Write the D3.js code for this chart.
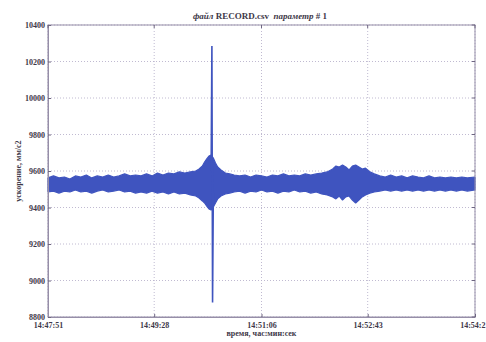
<!DOCTYPE html>
<html><head><meta charset="utf-8">
<script src="https://cdn.jsdelivr.net/npm/d3@7"></script>
<style>html,body{margin:0;padding:0;background:#fff;overflow:hidden}</style>
</head><body>
<svg id="c" width="486" height="342"></svg>
<script>
// time offsets in seconds from 14:47:51
const times = [0,5,10,15,20,25,30,35,40,45,50,55,60,65,70,75,80,85,90,95,100,105,110,115,120,125,130,135,
  138,141,143,145,147,149,151,153,155,158,162,166,170,
  175,180,185,190,195,200,205,210,215,220,225,230,235,240,245,250,255,
  260,263,266,269,272,275,278,281,284,287,290,294,298,
  303,308,313,318,323,328,333,338,343,348,353,358,363,368,373,378,383,390];
const upper = [9562,9573,9562,9567,9556,9573,9567,9578,9562,9573,9567,9578,9567,9573,9584,9573,9578,9573,9584,9573,9589,9578,9589,9584,9595,9589,9595,9600,
  9611,9627,9649,9666,9682,9688,9671,9644,9622,9606,9589,9584,9578,
  9573,9578,9567,9578,9573,9567,9578,9573,9584,9573,9578,9573,9584,9578,9584,9589,9595,
  9611,9627,9622,9633,9622,9606,9627,9633,9622,9611,9616,9595,9584,
  9573,9567,9578,9567,9573,9562,9573,9567,9562,9573,9562,9567,9562,9567,9562,9567,9562,
  9567];
const lower = [9485,9490,9479,9490,9485,9496,9485,9490,9479,9490,9496,9485,9490,9496,9485,9490,9479,9485,9479,9490,9479,9485,9474,9485,9474,9479,9469,9463,
  9452,9436,9425,9408,9392,9386,9403,9425,9447,9463,9474,9479,9485,
  9490,9479,9490,9485,9496,9485,9490,9479,9490,9485,9496,9485,9490,9479,9485,9474,9469,
  9458,9447,9463,9441,9458,9463,9441,9425,9441,9458,9469,9479,9485,
  9490,9496,9490,9496,9490,9496,9490,9496,9490,9496,9490,9496,9490,9496,9490,9496,9490,
  9496];
const spikeTimes = [149, 149.7, 150.3, 151];
const spikeValues = [9600, 10285, 8880, 9480];
const yTicks = [8800,9000,9200,9400,9600,9800,10000,10200,10400];
const xTickSecs = [0,97,195,292,390];
const xTickLabels = ["14:47:51","14:49:28","14:51:06","14:52:43","14:54:2"];
const titleParts = [["файл ",true],["RECORD.csv",false],["  параметр ",true],["# 1",false]];
const xTitle = "время, час:мин:сек";
const yTitle = "ускорение, мм/с2";

const L=48,R=475,T=25,B=317;
const svg=d3.select("#c");
const x=d3.scaleLinear().domain([0,390]).range([L,R]);
const y=d3.scaleLinear().domain([8800,10400]).range([B,T]);
const font="'Liberation Serif', serif";
const txt="#3e3848";
const blue="#3f54bf";

// grid
const g=svg.append("g");
g.selectAll(".gy").data(yTicks).enter().append("line")
  .attr("x1",L).attr("x2",R).attr("y1",d=>y(d)).attr("y2",d=>y(d))
  .attr("stroke","#b9b2cc").attr("stroke-width",0.9).attr("stroke-dasharray","1,2");
g.selectAll(".gx").data(xTickSecs).enter().append("line")
  .attr("x1",d=>x(d)).attr("x2",d=>x(d)).attr("y1",T).attr("y2",B)
  .attr("stroke","#b9b2cc").attr("stroke-width",0.9).attr("stroke-dasharray","1,2");

// band
const band=times.map((t,i)=>({t,u:upper[i],l:lower[i]}));
svg.append("path").datum(band)
  .attr("d",d3.area().x(d=>x(d.t)).y0(d=>y(d.l)).y1(d=>y(d.u)).curve(d3.curveLinear))
  .attr("fill",blue).attr("stroke",blue).attr("stroke-width",1.2).attr("stroke-linejoin","bevel");
svg.append("path").datum(spikeTimes.map((t,i)=>({t,v:spikeValues[i]})))
  .attr("d",d3.line().x(d=>x(d.t)).y(d=>y(d.v)))
  .attr("fill","none").attr("stroke",blue).attr("stroke-width",1.6);

// frame
svg.append("rect").attr("x",L).attr("y",T).attr("width",R-L).attr("height",B-T)
  .attr("fill","none").attr("stroke","#968ea8").attr("stroke-width",1);

// axes
const ax=svg.append("g").attr("transform",`translate(0,${B})`)
  .call(d3.axisBottom(x).tickValues(xTickSecs).tickFormat((d,i)=>xTickLabels[i]).tickSizeInner(-3).tickSizeOuter(0).tickPadding(5));
const ay=svg.append("g").attr("transform",`translate(${L},0)`)
  .call(d3.axisLeft(y).tickValues(yTicks).tickFormat(d3.format("d")).tickSizeInner(-3).tickSizeOuter(0).tickPadding(3));
[ax,ay].forEach(a=>{
  a.select(".domain").attr("stroke","#968ea8");
  a.selectAll(".tick line").attr("stroke","#6e6680");
  a.selectAll("text").attr("font-family",font).attr("font-size",8).attr("font-weight","bold").attr("fill",txt);
});
ax.selectAll(".tick text").filter((d,i)=>i===xTickSecs.length-1).attr("text-anchor","end").attr("x",485-R);
// top/right ticks
svg.selectAll(".tt").data(xTickSecs).enter().append("line")
  .attr("x1",d=>x(d)).attr("x2",d=>x(d)).attr("y1",T).attr("y2",T+3).attr("stroke","#6e6680");
svg.selectAll(".rt").data(yTicks).enter().append("line")
  .attr("x1",R).attr("x2",R-3).attr("y1",d=>y(d)).attr("y2",d=>y(d)).attr("stroke","#6e6680");

const tt=svg.append("text").attr("x",260).attr("y",19).attr("text-anchor","middle")
  .attr("font-family",font).attr("font-size",9).attr("font-weight","bold").attr("fill",txt).attr("xml:space","preserve");
titleParts.forEach(([s,it])=>tt.append("tspan").attr("font-style",it?"italic":"normal").text(s));
svg.append("text").attr("x",(L+R)/2).attr("y",336).attr("text-anchor","middle")
  .attr("font-family",font).attr("font-size",8).attr("font-weight","bold").attr("fill",txt).text(xTitle);
svg.append("text").attr("transform",`translate(21,${(T+B)/2}) rotate(-90)`).attr("text-anchor","middle")
  .attr("font-family",font).attr("font-size",8).attr("font-weight","bold").attr("fill",txt).text(yTitle);
</script>
</body></html>
